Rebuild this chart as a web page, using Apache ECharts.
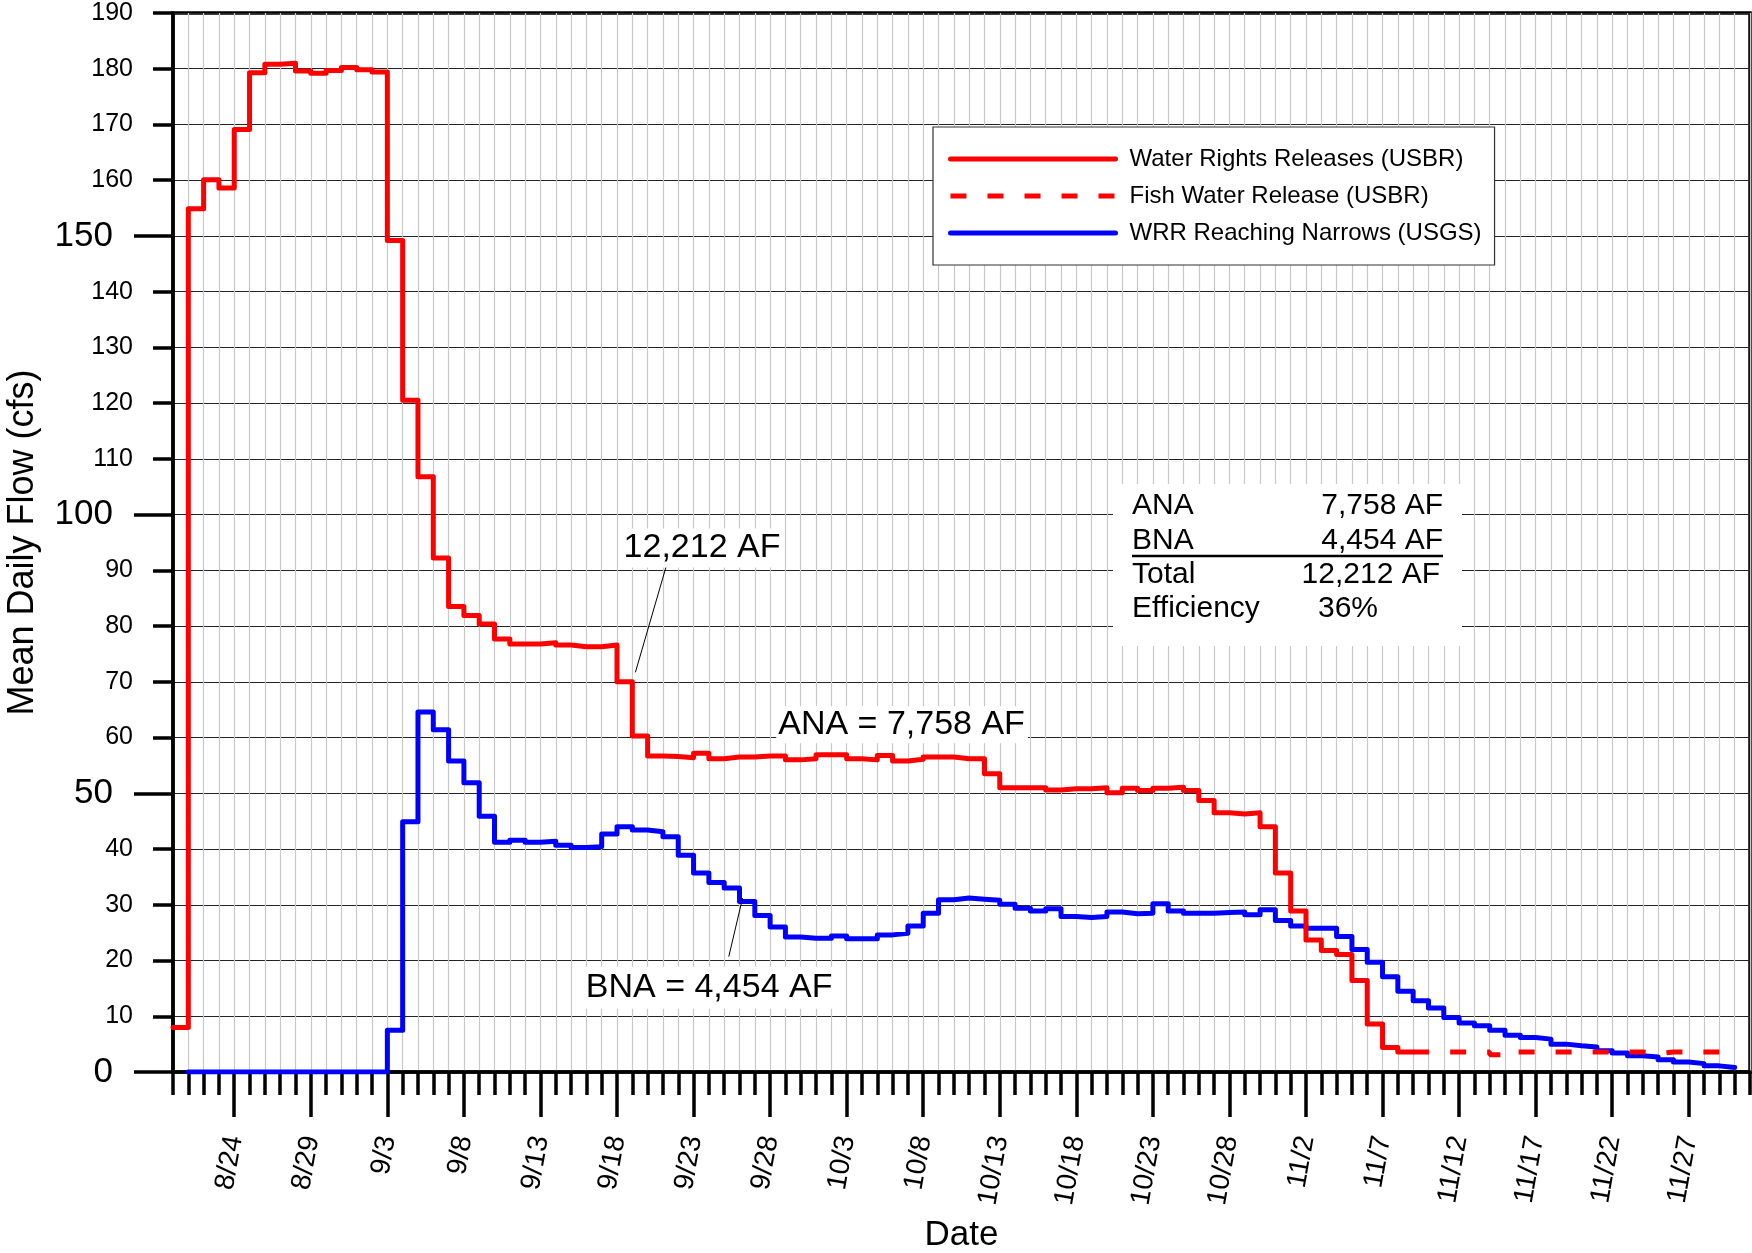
<!DOCTYPE html>
<html>
<head>
<meta charset="utf-8">
<title>Mean Daily Flow</title>
<script src="https://cdn.jsdelivr.net/npm/echarts@6.0.0/dist/echarts.min.js"></script>
<style>
  html, body { margin: 0; padding: 0; background: #fff; }
  #chart { width: 1752px; height: 1253px; }
</style>
</head>
<body>
<div id="chart"></div>
<script>
// x is counted in days, day 0 = 8/20, one mean value per day (drawn as steps)
const dayMax = 103
const firstLabelDay = 4
const dateLabels = ['8/24', '8/29', '9/3', '9/8', '9/13', '9/18', '9/23', '9/28', '10/3', '10/8',
  '10/13', '10/18', '10/23', '10/28', '11/2', '11/7', '11/12', '11/17', '11/22', '11/27']

const yMax = 190
const yBigTicks = [0, 50, 100, 150]

// Water Rights Releases (USBR), from day 0
const wrrStartDay = 0
const wrrFlow = [
  8, 154.9, 160.1, 158.6, 169.1, 179.3, 180.8, 181.0, 179.6, 179.2,
  179.7, 180.2, 179.8, 179.4, 149.2, 120.5, 106.8, 92.2, 83.5, 81.9,
  80.4, 77.7, 76.8, 76.8, 77.0, 76.6, 76.3, 76.3, 76.6, 70.0,
  60.3, 56.7, 56.6, 56.4, 57.2, 56.2, 56.5, 56.5, 56.7, 56.7,
  56.0, 56.2, 56.9, 56.9, 56.2, 56.0, 56.8, 55.8, 56.1, 56.5,
  56.5, 56.2, 56.2, 53.5, 51.0, 51.0, 51.0, 50.6, 50.8, 50.8,
  51.0, 50.1, 50.9, 50.5, 50.9, 51.1, 50.5, 48.7, 46.5, 46.3,
  46.5, 44.0, 35.7, 28.9, 23.7, 21.8, 21.1, 16.4, 8.6, 4.4,
  3.6
]

// Fish Water Release (USBR), from day 81
const fishStartDay = 81
const fishFlow = [
  3.6, 3.6, 3.6, 3.6, 3.6, 3.1, 3.6, 3.6, 3.6, 3.6,
  3.6, 3.6, 3.6, 3.6, 3.6, 3.3, 3.6, 3.6, 3.6, 3.6
]

// WRR Reaching Narrows (USGS), from day 1
const bnaStartDay = 1
const bnaFlow = [
  0, 0, 0, 0, 0, 0, 0, 0, 0, 0,
  0, 0, 0, 7.5, 44.9, 64.6, 61.4, 55.8, 51.9, 45.9,
  41.2, 41.6, 41.2, 41.4, 40.7, 40.3, 40.4, 42.7, 44.0, 43.4,
  43.1, 42.2, 38.9, 35.7, 34.0, 33.0, 30.6, 28.1, 26.0, 24.2,
  24.0, 24.0, 24.4, 23.9, 23.9, 24.6, 24.9, 26.2, 28.5, 30.9,
  31.2, 31.0, 30.8, 30.1, 29.4, 28.9, 29.3, 27.9, 27.7, 27.9,
  28.7, 28.4, 28.5, 30.2, 28.9, 28.5, 28.5, 28.6, 28.7, 28.2,
  29.1, 27.2, 26.2, 25.8, 25.8, 24.3, 22.0, 19.7, 17.1, 14.5,
  12.8, 11.5, 9.8, 8.8, 8.3, 7.5, 6.6, 6.2, 5.9, 5.0,
  4.7, 4.5, 3.8, 3.4, 2.9, 2.7, 2.2, 1.8, 1.5, 1.1,
  0.8
]

const FONT = '"Liberation Sans", Arial, Helvetica, sans-serif'

// each value holds for one whole day, so repeat the last value at the day after
const toSteps = (start, values) => {
  const pts = values.map((v, i) => [start + i, v])
  pts.push([start + values.length, values[values.length - 1]])
  return pts
}

// category axis used only for the long ticks and the date labels
const majorCats = []
for (let d = 0; d <= dayMax; d++) {
  const k = (d - firstLabelDay) / 5
  majorCats.push(d >= firstLabelDay && Number.isInteger(k) && k < dateLabels.length ? dateLabels[k] : '')
}
const yCats = []
for (let v = 0; v <= yMax; v += 10) yCats.push(String(v))

const chart = echarts.init(document.getElementById('chart'), null, { renderer: 'canvas' })

const option = {
  backgroundColor: '#fff',
  animation: false,
  textStyle: { fontFamily: FONT },
  grid: {
    left: 173, right: 2, top: 13, bottom: 181,
    show: true, borderColor: '#000', borderWidth: 3.5,
    containLabel: false, outerBoundsMode: 'none'
  },
  legend: {
    left: 933, top: 127,
    orient: 'vertical',
    data: ['Water Rights Releases (USBR)', 'Fish Water Release (USBR)', 'WRR Reaching Narrows (USGS)'],
    itemWidth: 165, itemHeight: 24, itemGap: 13,
    padding: [20, 13, 20, 15],
    backgroundColor: '#fff', borderColor: '#333', borderWidth: 1.2, borderRadius: 0,
    selectedMode: false,
    itemStyle: { color: 'rgba(0,0,0,0)', borderWidth: 0 },
    lineStyle: { width: 5 },
    textStyle: { fontSize: 24, color: '#000', fontFamily: FONT, padding: [0, 0, 0, 9] }
  },
  xAxis: [
    {
      type: 'value', min: 0, max: dayMax, interval: 1, position: 'bottom',
      name: 'Date', nameLocation: 'middle', nameGap: 146, nameMoveOverlap: false,
      nameTextStyle: { fontSize: 35, color: '#000', fontFamily: FONT },
      axisLine: { show: true, lineStyle: { color: '#000', width: 3.5 } },
      axisTick: { show: true, length: 23, lineStyle: { color: '#000', width: 3.5 } },
      axisLabel: { show: false },
      splitLine: { show: true, lineStyle: { color: '#c8c8c8', width: 1.2 } }
    },
    {
      type: 'category', data: majorCats, boundaryGap: false, position: 'bottom',
      axisLine: { show: false },
      axisTick: { show: true, length: 45, interval: (i, v) => v !== '', lineStyle: { color: '#000', width: 3.5 } },
      axisLabel: {
        show: true, interval: (i, v) => v !== '', rotate: 80, margin: 64,
        padding: [12, 0, 0, 0],
        fontSize: 28, color: '#000', fontFamily: FONT
      },
      splitLine: { show: false }
    }
  ],
  yAxis: [
    {
      type: 'value', min: 0, max: yMax, interval: 10, position: 'left',
      name: 'Mean Daily Flow (cfs)', nameLocation: 'middle', nameGap: 132, nameMoveOverlap: false,
      nameTextStyle: { fontSize: 36, color: '#000', fontFamily: FONT },
      axisLine: { show: true, lineStyle: { color: '#000', width: 3.5 } },
      axisTick: { show: true, length: 20, lineStyle: { color: '#000', width: 3.5 } },
      axisLabel: {
        margin: 40, color: '#000', fontFamily: FONT,
        formatter: v => yBigTicks.includes(v) ? '{big|' + v + '}' : '{n|' + v + '}',
        rich: {
          n: { fontSize: 25, color: '#000', fontFamily: FONT },
          big: { fontSize: 35, color: '#000', fontFamily: FONT, padding: [0, 20, 0, 0] }
        }
      },
      splitLine: { show: true, lineStyle: { color: '#222', width: 1.2 } }
    },
    {
      type: 'category', data: yCats, boundaryGap: false, position: 'left',
      axisLine: { show: false },
      axisTick: { show: true, length: 39, interval: i => i % 5 === 0, lineStyle: { color: '#000', width: 3.5 } },
      axisLabel: { show: false },
      splitLine: { show: false }
    }
  ],
  series: [
    {
      name: 'WRR Reaching Narrows (USGS)', type: 'line', step: 'end',
      xAxisIndex: 0, yAxisIndex: 0, symbol: 'none',
      data: toSteps(bnaStartDay, bnaFlow),
      lineStyle: { color: '#0000ff', width: 5, join: 'round', cap: 'round' },
      itemStyle: { color: '#0000ff' }, z: 3
    },
    {
      name: 'Water Rights Releases (USBR)', type: 'line', step: 'end',
      xAxisIndex: 0, yAxisIndex: 0, symbol: 'none',
      data: toSteps(wrrStartDay, wrrFlow),
      lineStyle: { color: '#ff0000', width: 5, join: 'round', cap: 'round' },
      itemStyle: { color: '#ff0000' }, z: 4
    },
    {
      name: 'Fish Water Release (USBR)', type: 'line', step: 'end',
      xAxisIndex: 0, yAxisIndex: 0, symbol: 'none',
      data: toSteps(fishStartDay, fishFlow),
      lineStyle: { color: '#ff0000', width: 5, type: [16, 21] },
      itemStyle: { color: '#ff0000' }, z: 4
    }
  ]
}

chart.setOption(option)

// annotations, placed in data coordinates (day, cfs)
const notes = [
  { text: '12,212 AF', at: [29.3, 94.0], padding: [2, 3, 3, 2], leader: [[32.2, 90.6], [30.2, 71.7]] },
  { text: 'ANA = 7,758 AF', at: [39.4, 62.3], padding: [2, 3, 1, 2] },
  { text: 'BNA = 4,454 AF', at: [26.7, 15.1], padding: [4, 5, 4, 4], leader: [[36.3, 20.7], [37.2, 31.2]] }
]
const px = p => chart.convertToPixel({ seriesIndex: 0 }, p)

const graphics = []
notes.forEach(n => {
  if (n.leader) {
    const a = px(n.leader[0])
    const b = px(n.leader[1])
    graphics.push({
      type: 'line', z: 100,
      shape: { x1: a[0], y1: a[1], x2: b[0], y2: b[1] },
      style: { stroke: '#000', lineWidth: 1 }
    })
  }
  const p = px(n.at)
  graphics.push({
    type: 'text', z: 101,
    style: {
      text: n.text, x: p[0], y: p[1], align: 'left', verticalAlign: 'middle',
      font: '34px ' + FONT, fill: '#000', backgroundColor: '#fff', padding: n.padding
    }
  })
})

// summary table
const statRows = [
  ['ANA', '7,758 AF'],
  ['BNA', '4,454 AF'],
  ['Total', '12,212 AF'],
  ['Efficiency', '36%']
]
const statFont = '30px ' + FONT
const rowY = [506, 541, 575, 609]
graphics.push({ type: 'rect', z: 100, shape: { x: 1113, y: 484, width: 349, height: 162 }, style: { fill: '#fff' } })
statRows.forEach((r, i) => {
  graphics.push({ type: 'text', z: 101, style: { text: r[0], x: 1132, y: rowY[i], align: 'left', verticalAlign: 'middle', font: statFont, fill: '#000' } })
  if (i === 3) {
    graphics.push({ type: 'text', z: 101, style: { text: r[1], x: 1318, y: rowY[i], align: 'left', verticalAlign: 'middle', font: statFont, fill: '#000' } })
  } else {
    graphics.push({ type: 'text', z: 101, style: { text: r[1], x: i === 2 ? 1440 : 1443, y: rowY[i], align: 'right', verticalAlign: 'middle', font: statFont, fill: '#000' } })
  }
})
graphics.push({ type: 'line', z: 101, shape: { x1: 1132, y1: 556, x2: 1443, y2: 556 }, style: { stroke: '#000', lineWidth: 2.5 } })

chart.setOption({ graphic: graphics })
</script>
</body>
</html>
